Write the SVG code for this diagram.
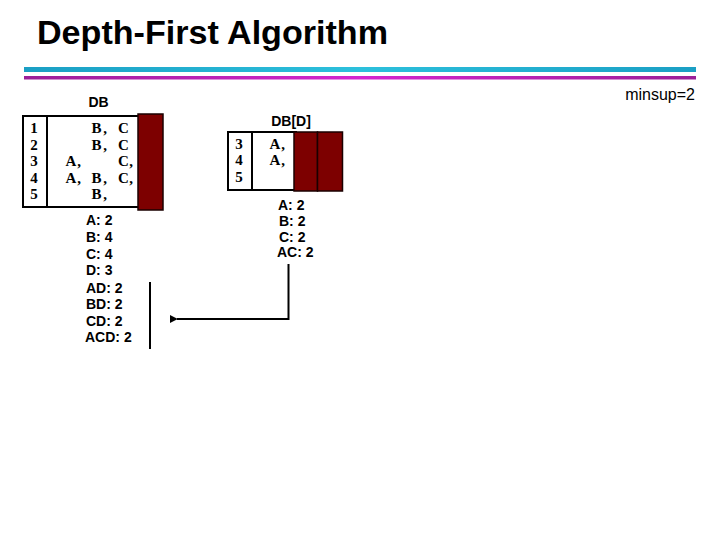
<svg xmlns="http://www.w3.org/2000/svg" width="720" height="540" viewBox="0 0 720 540">
<defs>
<linearGradient id="gCyan" x1="0" y1="0" x2="1" y2="0">
<stop offset="0" stop-color="#1a9fc4"/>
<stop offset="0.5" stop-color="#2cc0dc"/>
<stop offset="1" stop-color="#1a9fc4"/>
</linearGradient>
<linearGradient id="gMag" x1="0" y1="0" x2="1" y2="0">
<stop offset="0" stop-color="#9a1f98"/>
<stop offset="0.5" stop-color="#d425d0"/>
<stop offset="1" stop-color="#9a1f98"/>
</linearGradient>
<marker id="arrow" viewBox="0 0 10 10" refX="1" refY="5" markerWidth="4" markerHeight="4" orient="auto-start-reverse" markerUnits="strokeWidth">
<path d="M10,0 L0,5 L10,10 z" fill="#000"/>
</marker>
<style>
.title{font-family:"Liberation Sans",Arial,sans-serif;font-weight:bold;font-size:34px;fill:#000}
.lbl{font-family:"Liberation Sans",Arial,sans-serif;font-weight:bold;font-size:14px;fill:#000}
.cnt{font-family:"Liberation Sans",Arial,sans-serif;font-weight:bold;font-size:14px;fill:#000}
.cell{font-family:"Liberation Serif","Times New Roman",serif;font-weight:bold;font-size:15px;fill:#000;text-anchor:middle}
.box{fill:#fff;stroke:#000;stroke-width:2}
.red{fill:#7d0000;stroke:#1a0000;stroke-width:1.5}
.line{fill:none;stroke:#000;stroke-width:2}
</style>
</defs>
<rect width="720" height="540" fill="#fff"/>

<g id="title">
<text class="title" x="37" y="44" textLength="351" lengthAdjust="spacingAndGlyphs">Depth-First Algorithm</text>
</g>

<g id="rules">
<rect x="24" y="67" width="672" height="5" fill="url(#gCyan)"/>
<rect x="24" y="76" width="672" height="3.5" fill="url(#gMag)"/>
</g>

<g id="minsup">
<text x="695" y="100" text-anchor="end" font-family="'Liberation Sans',Arial,sans-serif" font-size="16" fill="#000">minsup=2</text>
</g>

<g id="db">
<text class="lbl" x="98.5" y="107" text-anchor="middle">DB</text>
<rect class="box" x="23" y="116" width="117" height="91"/>
<line class="line" x1="47" y1="116" x2="47" y2="207"/>
<rect class="red" x="138" y="114" width="25" height="96"/>
<text class="cell" x="34" y="133">1</text>
<text class="cell" x="34" y="150">2</text>
<text class="cell" x="34" y="166">3</text>
<text class="cell" x="34" y="183">4</text>
<text class="cell" x="34" y="199">5</text>
<text class="cell" x="96.5 105 123.5" y="133">B,C</text>
<text class="cell" x="96.5 105 123.5" y="150">B,C</text>
<text class="cell" x="71 79 123.5 131" y="166">A,C,</text>
<text class="cell" x="71 79 96.5 105 123.5 131" y="183">A,B,C,</text>
<text class="cell" x="96.5 105" y="199">B,</text>
</g>

<g id="db-counts">
<text class="cnt" x="86" y="225">A: 2</text>
<text class="cnt" x="86" y="242">B: 4</text>
<text class="cnt" x="86" y="259">C: 4</text>
<text class="cnt" x="86" y="275">D: 3</text>
<text class="cnt" x="86" y="293">AD: 2</text>
<text class="cnt" x="86" y="309">BD: 2</text>
<text class="cnt" x="86" y="326">CD: 2</text>
<text class="cnt" x="85" y="342">ACD: 2</text>
</g>

<g id="dbd">
<text class="lbl" x="291" y="126" text-anchor="middle">DB[D]</text>
<rect class="box" x="228" y="132" width="68" height="58"/>
<line class="line" x1="252" y1="132" x2="252" y2="190"/>
<rect class="red" x="294" y="132" width="23.5" height="59"/>
<rect class="red" x="317.5" y="132" width="25" height="59"/>
<text class="cell" x="239" y="149">3</text>
<text class="cell" x="239" y="165">4</text>
<text class="cell" x="239" y="182">5</text>
<text class="cell" x="275 283" y="149">A,</text>
<text class="cell" x="275 283" y="165">A,</text>
</g>

<g id="dbd-counts">
<text class="cnt" x="278" y="210">A: 2</text>
<text class="cnt" x="279" y="226">B: 2</text>
<text class="cnt" x="279" y="242">C: 2</text>
<text class="cnt" x="277" y="257">AC: 2</text>
</g>

<g id="connectors">
<line class="line" x1="150" y1="282" x2="150" y2="349"/>
<polyline class="line" points="288.5,264 288.5,319 177,319" marker-end="url(#arrow)"/>
</g>
</svg>
